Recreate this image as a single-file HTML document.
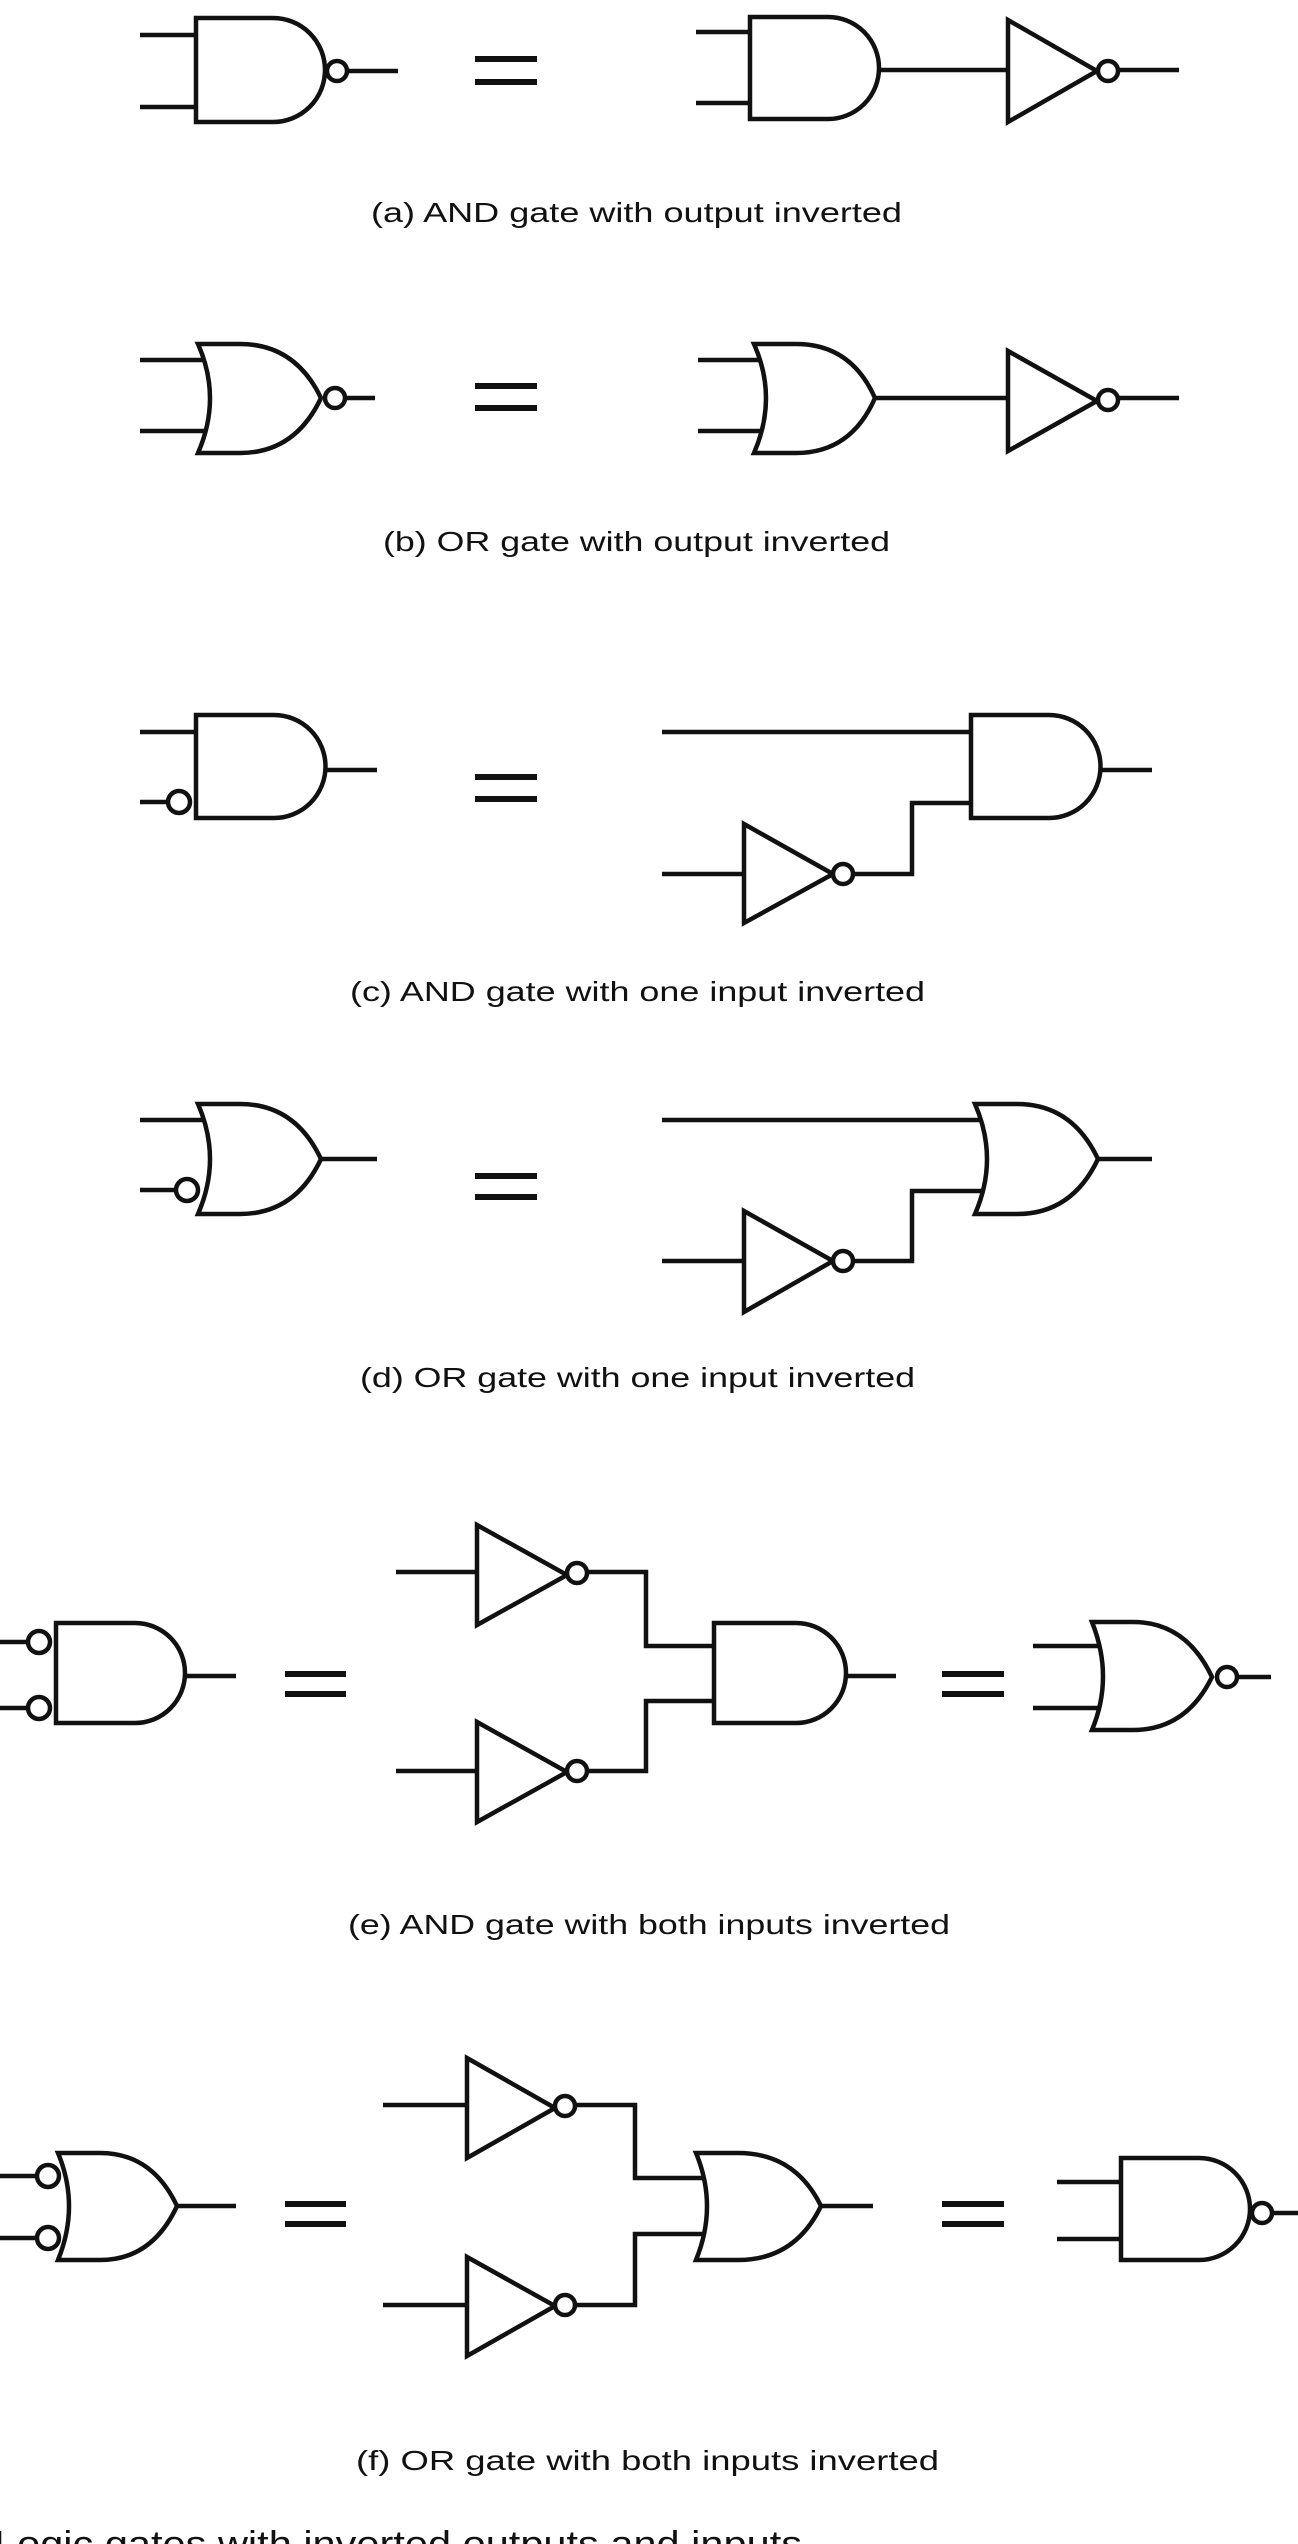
<!DOCTYPE html>
<html><head><meta charset="utf-8"><style>
html,body{margin:0;padding:0;background:#fff;}
svg{display:block;}
text{font-family:"Liberation Sans",Arial,sans-serif;fill:#111;}
</style></head><body>
<svg width="1298" height="2544" viewBox="0 0 1298 2544" xmlns="http://www.w3.org/2000/svg">
<g stroke="#111" stroke-width="4.5" fill="none" stroke-linejoin="miter">

<!-- (a) -->
<path d="M140 35H196M140 107H196M347 71H398"/>
<path d="M196 18H273A52 52 0 0 1 273 122H196Z" fill="#fff"/>
<circle cx="337" cy="71" r="10" fill="#fff"/>
<path d="M475 59H537M475 82H537" stroke-width="6"/>
<path d="M696 32H750M696 103H750M879 70H1008M1118 70H1179"/>
<path d="M750 17H828A51 51 0 0 1 828 119H750Z" fill="#fff"/>
<polygon points="1008,20 1008,122 1097,71" fill="#fff"/>
<circle cx="1108" cy="71" r="10" fill="#fff"/>

<!-- (b) -->
<path d="M140 360H205M140 431H205M345 398H375"/>
<path d="M198 344H240Q295 344 321 398Q295 453 240 453H198Q222 398 198 344Z" fill="#fff"/>
<circle cx="335" cy="398" r="10" fill="#fff"/>
<path d="M475 386H537M475 408H537" stroke-width="6"/>
<path d="M698 360H760M698 431H760M875 398H1008M1118 398H1179"/>
<path d="M754 344H796Q851 344 875 398Q851 453 796 453H754Q778 398 754 344Z" fill="#fff"/>
<polygon points="1008,351 1008,451 1097,401" fill="#fff"/>
<circle cx="1108" cy="400" r="10" fill="#fff"/>

<!-- (c) -->
<path d="M140 732H196M140 802H167M325 770H377"/>
<path d="M196 715H274A51.5 51.5 0 0 1 274 818H196Z" fill="#fff"/>
<circle cx="179" cy="802" r="11" fill="#fff"/>
<path d="M475 777H537M475 799H537" stroke-width="6"/>
<path d="M662 732H971M1100 770H1152M971 803H912V874H853M662 874H744"/>
<path d="M971 715H1049A51.5 51.5 0 0 1 1049 818H971Z" fill="#fff"/>
<polygon points="744,824 744,923 833,874" fill="#fff"/>
<circle cx="843" cy="874" r="10" fill="#fff"/>

<!-- (d) -->
<path d="M140 1120H205M140 1190H176M321 1159H377"/>
<path d="M198 1104H240Q295 1104 321 1159Q295 1214 240 1214H198Q222 1159 198 1104Z" fill="#fff"/>
<circle cx="187" cy="1190" r="11" fill="#fff"/>
<path d="M475 1176H537M475 1197H537" stroke-width="6"/>
<path d="M662 1120H985M1098 1159H1152M985 1191H912V1261H853M662 1261H744"/>
<path d="M975 1104H1017Q1072 1104 1098 1159Q1072 1214 1017 1214H975Q999 1159 975 1104Z" fill="#fff"/>
<polygon points="744,1211 744,1312 833,1261" fill="#fff"/>
<circle cx="843" cy="1261" r="10" fill="#fff"/>

<!-- (e) -->
<path d="M0 1642H28M0 1708H28M185 1676H236"/>
<path d="M56 1623H135A50 50 0 0 1 135 1723H56Z" fill="#fff"/>
<circle cx="39" cy="1642" r="11" fill="#fff"/>
<circle cx="39" cy="1708" r="11" fill="#fff"/>
<path d="M285 1674H346M285 1694H346" stroke-width="6"/>
<path d="M396 1572H477M587 1572H646V1646H714M396 1771H477M587 1771H646V1701H714M846 1676H896"/>
<polygon points="477,1525 477,1625 567,1575" fill="#fff"/>
<circle cx="577" cy="1573" r="10" fill="#fff"/>
<polygon points="477,1722 477,1822 567,1772" fill="#fff"/>
<circle cx="577" cy="1771" r="10" fill="#fff"/>
<path d="M714 1623H796A50 50 0 0 1 796 1723H714Z" fill="#fff"/>
<path d="M942 1674H1004M942 1694H1004" stroke-width="6"/>
<path d="M1033 1646H1098M1033 1708H1098M1237 1677H1271"/>
<path d="M1092 1622H1133Q1186 1622 1212 1677Q1186 1730 1133 1730H1092Q1114 1677 1092 1622Z" fill="#fff"/>
<circle cx="1227" cy="1677" r="10" fill="#fff"/>

<!-- (f) -->
<path d="M0 2176H40M0 2238H40M177 2206H236"/>
<path d="M58 2153H100Q152 2153 177 2206Q152 2260 100 2260H58Q80 2206 58 2153Z" fill="#fff"/>
<circle cx="48" cy="2176" r="11" fill="#fff"/>
<circle cx="48" cy="2238" r="11" fill="#fff"/>
<path d="M285 2204H346M285 2224H346" stroke-width="6"/>
<path d="M383 2105H467M575 2105H635V2178H705M383 2305H467M575 2305H635V2234H705M821 2206H873"/>
<polygon points="467,2058 467,2158 555,2108" fill="#fff"/>
<circle cx="565" cy="2106" r="10" fill="#fff"/>
<polygon points="467,2257 467,2356 555,2306" fill="#fff"/>
<circle cx="565" cy="2305" r="10" fill="#fff"/>
<path d="M696 2153H738Q795 2153 821 2206Q795 2260 738 2260H696Q718 2206 696 2153Z" fill="#fff"/>
<path d="M942 2204H1004M942 2224H1004" stroke-width="6"/>
<path d="M1057 2182H1121M1057 2239H1121M1272 2213H1298"/>
<path d="M1121 2158H1199A51 51 0 0 1 1199 2260H1121Z" fill="#fff"/>
<circle cx="1262" cy="2213" r="10" fill="#fff"/>
</g>

<g font-size="28">
<text x="371" y="222" textLength="531" lengthAdjust="spacingAndGlyphs">(a)  AND gate with output inverted</text>
<text x="383" y="551" textLength="507" lengthAdjust="spacingAndGlyphs">(b)  OR gate with output inverted</text>
<text x="350" y="1001" textLength="575" lengthAdjust="spacingAndGlyphs">(c)  AND gate with one input inverted</text>
<text x="360" y="1387" textLength="555" lengthAdjust="spacingAndGlyphs">(d)  OR gate with one input inverted</text>
<text x="348" y="1934" textLength="602" lengthAdjust="spacingAndGlyphs">(e)  AND gate with both inputs inverted</text>
<text x="356" y="2470" textLength="583" lengthAdjust="spacingAndGlyphs">(f)  OR gate with both inputs inverted</text>
</g>
<text x="-6" y="2556" font-size="36" fill="#000" textLength="808" lengthAdjust="spacingAndGlyphs">Logic gates with inverted outputs and inputs</text>
</svg>
</body></html>
